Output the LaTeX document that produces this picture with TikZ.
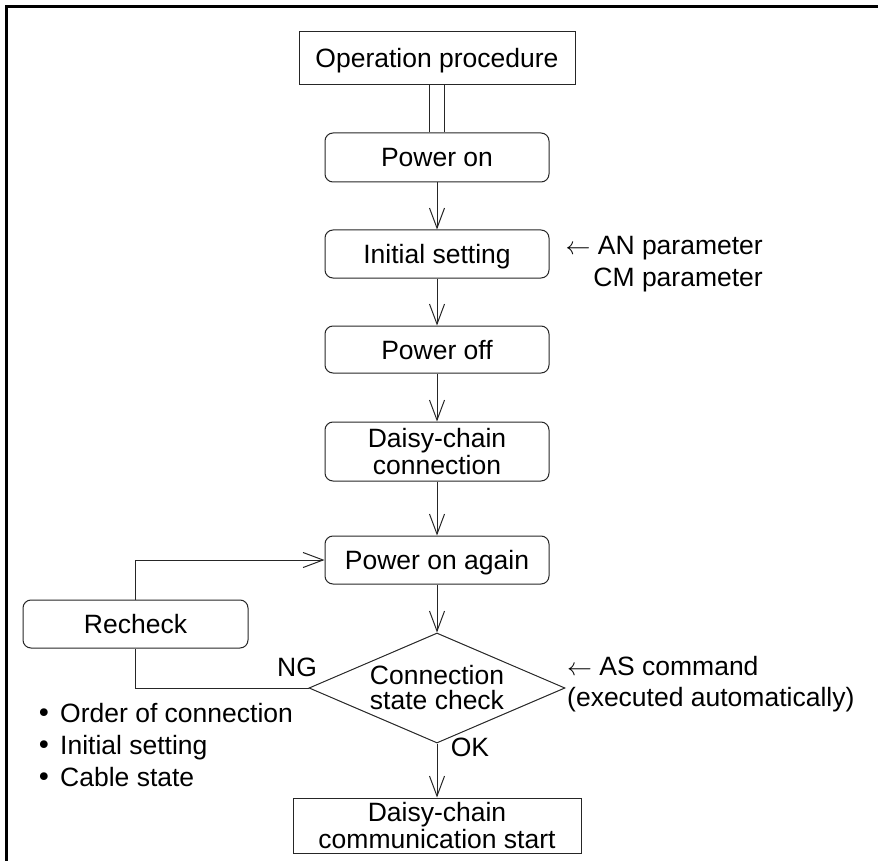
\documentclass[tikz,border=0pt]{standalone}
\usepackage{fontspec}
\setmainfont{Liberation Sans}
\newfontfamily\dejavu{DejaVu Sans}
\usetikzlibrary{arrows.meta,shapes.geometric}
\newcommand{\bigbul}{\makebox[24pt][l]{{\dejavu •}}}
\begin{document}
\begin{tikzpicture}[x=1pt,y=-1pt,
  every node/.style={font=\fontsize{26.5}{31}\selectfont, inner sep=0pt},
  line/.style={draw=black!85, line width=1pt},
  arr/.style={line, -{Straight Barb[length=20pt,width=15pt]}},
  sqbox/.style={line, rectangle, align=center},
  rbox/.style={line, rectangle, rounded corners=8pt, align=center, minimum width=224pt},
  single/.style={text height=19pt, text depth=0pt},
]
\useasboundingbox (0,0) rectangle (878,861);
\draw[line width=2.6pt] (6.3,861) -- (6.3,6.3) -- (878,6.3);

\node[sqbox, single, minimum width=276pt, minimum height=53pt] (op) at (437,58.5) {Operation procedure};
\node[rbox, single, minimum height=49pt] (pon) at (437,157.5) {Power on};
\node[rbox, single, minimum height=48pt] (init) at (437,254) {Initial setting};
\node[rbox, single, minimum height=47pt] (poff) at (437,349.5) {Power off};
\node[rbox, minimum height=59pt, font=\fontsize{26.5}{27}\selectfont] (daisy) at (437,451.5) {Daisy-chain\\connection};
\node[rbox, single, minimum height=48pt] (again) at (437,560) {Power on again};
\node[rbox, single, minimum width=225pt, minimum height=48pt] (recheck) at (135.5,624) {Recheck};
\node[line, diamond, shape aspect=2.33, minimum width=256pt, minimum height=110pt, align=center, font=\fontsize{26.5}{25}\selectfont] (check) at (437,688) {Connection\\state check};
\node[sqbox, minimum width=288pt, minimum height=55pt, font=\fontsize{26.5}{27}\selectfont] (final) at (437,825.5) {Daisy-chain\\communication start};

\draw[line] ([xshift=-7.5pt]op.south) -- ([xshift=-7.5pt]pon.north);
\draw[line] ([xshift=7.5pt]op.south) -- ([xshift=7.5pt]pon.north);
\draw[arr] (pon.south) -- (init.north);
\draw[arr] (init.south) -- (poff.north);
\draw[arr] (poff.south) -- (daisy.north);
\draw[arr] (daisy.south) -- (again.north);
\draw[arr] (again.south) -- (check.north);
\draw[arr] (check.south) -- (final.north);
\draw[line] (check.west) -| (recheck.south);
\draw[arr] (recheck.north) |- (again.west);

\node (ng) at (297,667) {NG};
\node (ok) at (470,747) {OK};

\node[align=right, anchor=east, font=\fontsize{26.5}{32}\selectfont] (anparam) at (763,264) {$\leftarrow$ AN parameter\\CM parameter};
\node[align=left, anchor=west, font=\fontsize{26.5}{31}\selectfont] (ascmd) at (567,684) {$\leftarrow$ AS command\\(executed automatically)};

\node[anchor=base west] (b1) at (36,722.5) {\bigbul Order of connection};
\node[anchor=base west] (b2) at (36,754.5) {\bigbul Initial setting};
\node[anchor=base west] (b3) at (36,786.5) {\bigbul Cable state};
\end{tikzpicture}
\end{document}
